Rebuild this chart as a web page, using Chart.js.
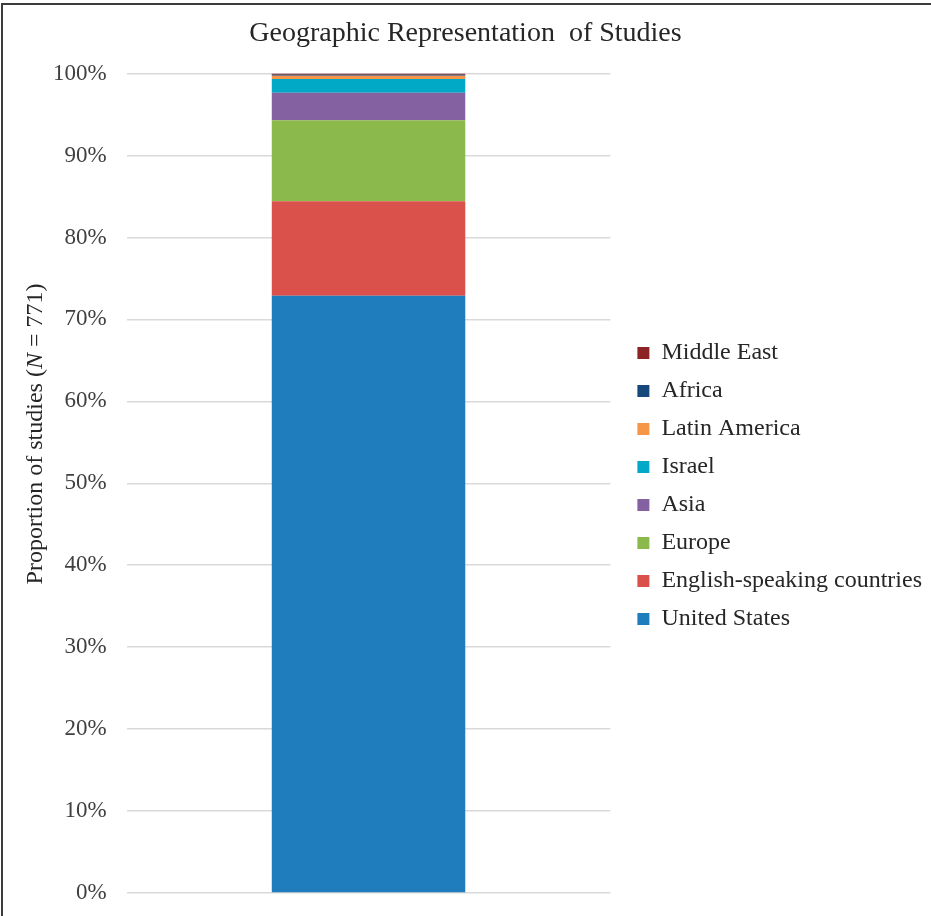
<!DOCTYPE html>
<html>
<head>
<meta charset="utf-8">
<title>Geographic Representation of Studies</title>
<script src="https://cdn.jsdelivr.net/npm/chart.js@4.4.0/dist/chart.umd.min.js"></script>
<style>
  html, body { margin: 0; padding: 0; background: #fff; }
  #wrap { position: relative; width: 931px; height: 916px; }
  #frame {
    position: absolute; left: 1px; top: 3px; right: 0; bottom: 0;
    border-left: 2px solid #3c3c3c; border-top: 2px solid #3c3c3c;
    pointer-events: none;
  }
  #chart { position: absolute; left: 0; top: 0; }
</style>
</head>
<body>
<div id="wrap">
  <canvas id="chart" width="931" height="916"></canvas>
  <div id="frame"></div>
</div>
<script>
// Study counts by region (N = 771), bottom of the stack first
const regions = ['United States', 'English-speaking countries', 'Europe', 'Asia',
                 'Israel', 'Latin America', 'Africa', 'Middle East'];
const counts = [562, 89, 76, 26, 13, 3, 1, 1];
const colors = ['#1f7dbe', '#da504a', '#8cb94b', '#8462a2',
                '#01a9c6', '#f79646', '#17487a', '#8c2424'];
const totalN = 771;
const yTicks = [0, 10, 20, 30, 40, 50, 60, 70, 80, 90, 100];

const serif = '"Liberation Serif", "Times New Roman", serif';

// rotated y-axis title with an italic N
const axisTitle = {
  id: 'axisTitle',
  afterDraw(chart) {
    const { ctx } = chart;
    const parts = [
      { t: 'Proportion of studies (', italic: false },
      { t: 'N', italic: true },
      { t: ' = ' + totalN + ')', italic: false }
    ];
    const font = it => (it ? 'italic ' : '') + '24px ' + serif;
    let total = 0;
    parts.forEach(p => { ctx.font = font(p.italic); p.w = ctx.measureText(p.t).width; total += p.w; });
    ctx.save();
    ctx.translate(36, 434);
    ctx.rotate(-Math.PI / 2);
    ctx.fillStyle = '#262626';
    ctx.textBaseline = 'middle';
    ctx.textAlign = 'left';
    let x = -total / 2;
    parts.forEach(p => { ctx.font = font(p.italic); ctx.fillText(p.t, x, 0); x += p.w; });
    ctx.restore();
  }
};

// nudge the legend a little away from the plot and down
const legendShift = {
  id: 'legendShift',
  afterLayout(chart) {
    const lg = chart.legend;
    lg.left += 13; lg.right += 13;
    lg.top += 28; lg.bottom += 28;
  }
};

const datasets = regions.map((r, i) => ({
  label: r,
  data: [counts[i] / totalN * 100],
  backgroundColor: colors[i],
  borderWidth: 0,
  barPercentage: 0.4,
  categoryPercentage: 1
}));

new Chart(document.getElementById('chart'), {
  type: 'bar',
  data: { labels: [''], datasets },
  options: {
    responsive: false,
    animation: false,
    layout: { padding: { left: 12, right: 12, top: 0, bottom: 0 } },
    plugins: {
      title: {
        display: true,
        text: 'Geographic Representation  of Studies',
        color: '#262626',
        font: { family: serif, size: 28, weight: 'normal' },
        padding: { top: 17, bottom: 23 }
      },
      legend: {
        position: 'right',
        reverse: true,
        maxWidth: 340,
        labels: {
          boxWidth: 12,
          boxHeight: 12,
          padding: 14,
          color: '#262626',
          font: { family: serif, size: 24 }
        }
      },
      tooltip: { enabled: false }
    },
    scales: {
      x: { stacked: true, display: false },
      y: {
        stacked: true,
        min: 0,
        max: 100,
        afterBuildTicks: axis => { axis.ticks = yTicks.map(v => ({ value: v })); },
        // leave room for the rotated title, keep the 0% line low
        afterFit: axis => { axis.width += 21; axis.paddingBottom = 23; },
        ticks: {
          callback: v => v + '%',
          padding: 20,
          color: '#404040',
          font: { family: serif, size: 23 }
        },
        grid: { color: '#d9d9d9', lineWidth: 1.5, drawTicks: false },
        border: { display: false }
      }
    }
  },
  plugins: [axisTitle, legendShift]
});
</script>
</body>
</html>
